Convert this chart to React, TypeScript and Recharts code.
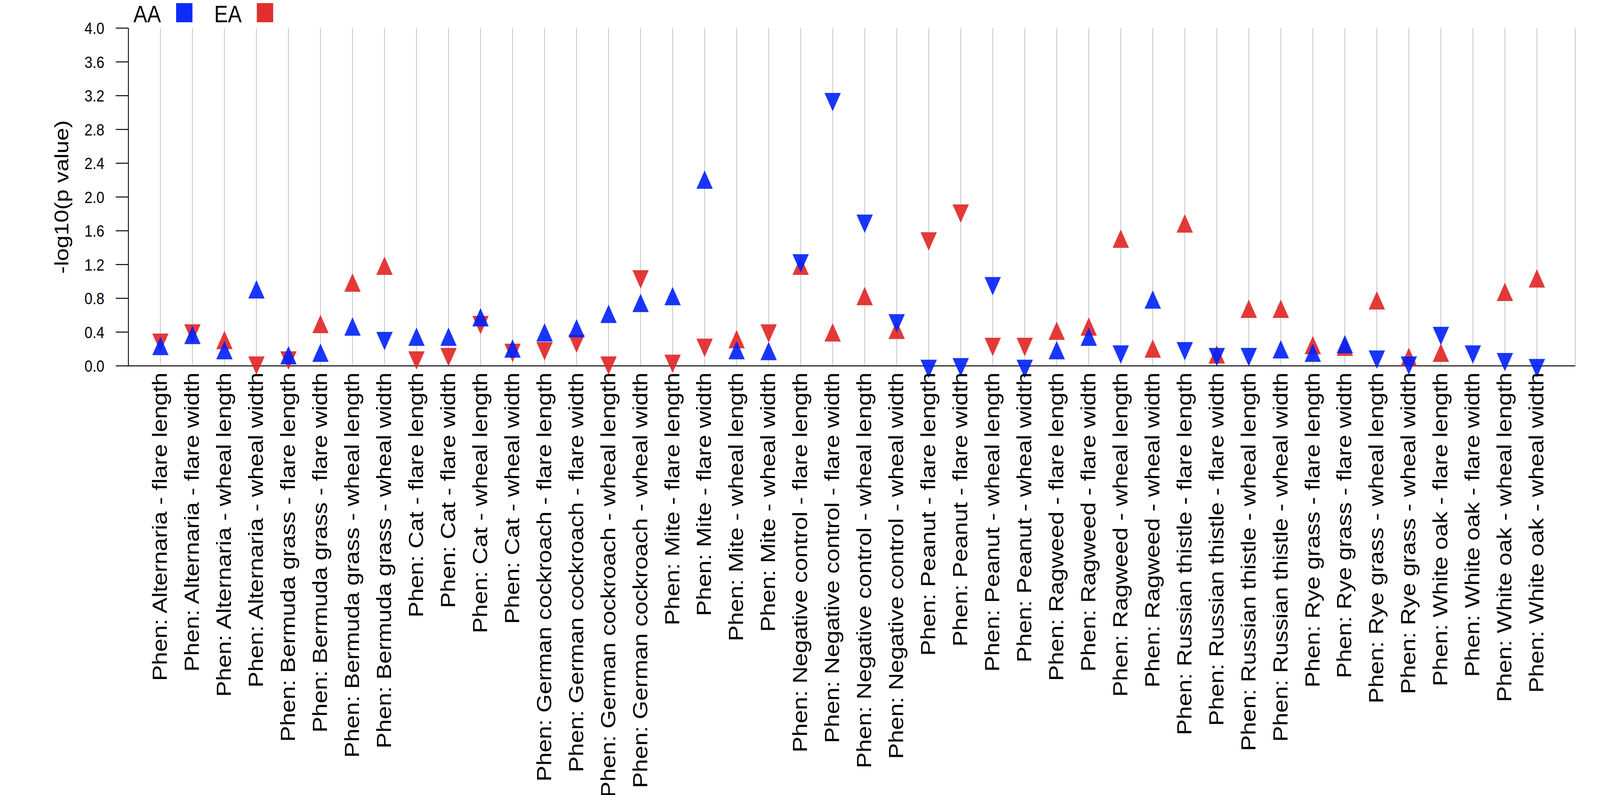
import React from 'react'
import { ScatterChart, Scatter, XAxis, YAxis, CartesianGrid } from 'recharts'

// PheWAS-style plot: -log10(p) per phenotype, triangle direction = effect direction

const phenotypes = [
  'Phen: Alternaria - flare length', 'Phen: Alternaria - flare width', 'Phen: Alternaria - wheal length', 'Phen: Alternaria - wheal width',
  'Phen: Bermuda grass - flare length', 'Phen: Bermuda grass - flare width', 'Phen: Bermuda grass - wheal length', 'Phen: Bermuda grass - wheal width',
  'Phen: Cat - flare length', 'Phen: Cat - flare width', 'Phen: Cat - wheal length', 'Phen: Cat - wheal width',
  'Phen: German cockroach - flare length', 'Phen: German cockroach - flare width', 'Phen: German cockroach - wheal length', 'Phen: German cockroach - wheal width',
  'Phen: Mite - flare length', 'Phen: Mite - flare width', 'Phen: Mite - wheal length', 'Phen: Mite - wheal width',
  'Phen: Negative control - flare length', 'Phen: Negative control - flare width', 'Phen: Negative control - wheal length', 'Phen: Negative control - wheal width',
  'Phen: Peanut - flare length', 'Phen: Peanut - flare width', 'Phen: Peanut - wheal length', 'Phen: Peanut - wheal width',
  'Phen: Ragweed - flare length', 'Phen: Ragweed - flare width', 'Phen: Ragweed - wheal length', 'Phen: Ragweed - wheal width',
  'Phen: Russian thistle - flare length', 'Phen: Russian thistle - flare width', 'Phen: Russian thistle - wheal length', 'Phen: Russian thistle - wheal width',
  'Phen: Rye grass - flare length', 'Phen: Rye grass - flare width', 'Phen: Rye grass - wheal length', 'Phen: Rye grass - wheal width',
  'Phen: White oak - flare length', 'Phen: White oak - flare width', 'Phen: White oak - wheal length', 'Phen: White oak - wheal width',
]

const aaValues = [
  0.20, 0.33, 0.15, 0.87,
  0.09, 0.12, 0.43, 0.33,
  0.31, 0.31, 0.54, 0.17,
  0.36, 0.41, 0.58, 0.71,
  0.79, 2.17, 0.15, 0.14,
  1.25, 3.16, 1.72, 0.54,
  0.00, 0.02, 0.98, 0.00,
  0.15, 0.31, 0.17, 0.75,
  0.21, 0.14, 0.14, 0.16,
  0.12, 0.22, 0.11, 0.04,
  0.39, 0.17, 0.08, 0.01,
]
const aaDirs = [
  'up', 'up', 'up', 'up',
  'up', 'up', 'up', 'down',
  'up', 'up', 'up', 'up',
  'up', 'up', 'up', 'up',
  'up', 'up', 'up', 'up',
  'down', 'down', 'down', 'down',
  'down', 'down', 'down', 'down',
  'up', 'up', 'down', 'up',
  'down', 'down', 'down', 'up',
  'up', 'up', 'down', 'down',
  'down', 'down', 'down', 'down',
]

const eaValues = [
  0.31, 0.42, 0.27, 0.04,
  0.10, 0.46, 0.95, 1.15,
  0.10, 0.14, 0.52, 0.19,
  0.21, 0.30, 0.04, 1.06,
  0.06, 0.25, 0.28, 0.42,
  1.15, 0.36, 0.79, 0.39,
  1.51, 1.84, 0.26, 0.26,
  0.38, 0.43, 1.47, 0.17,
  1.65, 0.10, 0.64, 0.64,
  0.21, 0.19, 0.74, 0.07,
  0.12, null, 0.84, 1.00,
]
const eaDirs = [
  'down', 'down', 'up', 'down',
  'down', 'up', 'up', 'up',
  'down', 'down', 'down', 'down',
  'down', 'down', 'down', 'down',
  'down', 'down', 'up', 'down',
  'up', 'up', 'up', 'up',
  'down', 'down', 'down', 'down',
  'up', 'up', 'up', 'up',
  'up', 'up', 'up', 'up',
  'up', 'up', 'up', 'up',
  'up', 'up', 'up', 'up',
]

const yTicks = [0, 0.4, 0.8, 1.2, 1.6, 2.0, 2.4, 2.8, 3.2, 3.6, 4.0]

const BLUE = '#0020f9'
const RED = '#e02323'
const FONT = '"Liberation Sans", Arial, Helvetica, sans-serif'
const W = 4797
const H = 2036

const legendItems = [
  { name: 'AA', color: BLUE },
  { name: 'EA', color: RED },
]

function toPoints(values: (number | null)[], dirs: string[]) {
  return values
    .map((v, i) => ({ x: i + 1, y: v, dir: dirs[i] }))
    .filter((p) => p.y !== null)
}

const aaData = toPoints(aaValues, aaDirs)
const eaData = toPoints(eaValues, eaDirs)
const xTicks = phenotypes.map((_, i) => i + 1)

function Triangle(props: any) {
  const { cx, cy, payload, fill } = props
  if (cx == null || cy == null) return null
  const w = 49
  const h = 47
  const d = payload.dir === 'up'
    ? `M${cx},${cy - (2 * h) / 3}L${cx + w / 2},${cy + h / 3}L${cx - w / 2},${cy + h / 3}Z`
    : `M${cx},${cy + (2 * h) / 3}L${cx + w / 2},${cy - h / 3}L${cx - w / 2},${cy - h / 3}Z`
  return <path d={d} fill={fill} fillOpacity={0.9} />
}

function PhenTick(props: any) {
  const { x, y, payload } = props
  return (
    <text
      transform={`translate(${x},${y}) rotate(-90)`}
      textAnchor="end"
      dy="0.32em"
      fontSize={61}
      fontFamily={FONT}
      fill="#000"
    >
      {phenotypes[payload.value - 1]}
    </text>
  )
}

function YLabel(props: any) {
  const { viewBox } = props
  const cx = viewBox.x + 205
  const cy = viewBox.y + viewBox.height / 2
  return (
    <text transform={`translate(${cx},${cy}) rotate(-90)`} textAnchor="middle" fontSize={59} fontFamily={FONT} fill="#000">
      -log10(p value)
    </text>
  )
}

function LegendOverlay() {
  return (
    <svg width={900} height={70} style={{ position: 'absolute', left: 0, top: 0 }}>
      {legendItems.map((item, i) => (
        <g key={item.name} transform={`translate(${400 + i * 242},0)`}>
          <text x={0} y={57} fontSize={62} fontFamily={FONT} fill="#000">{item.name}</text>
          <rect x={128} y={8} width={49} height={49} fill={item.color} fillOpacity={0.95} />
        </g>
      ))}
    </svg>
  )
}

export default function App() {
  // the visible viewport can be smaller than the nominal figure size: stretch the figure to fill it
  const vw = typeof window !== 'undefined' ? window.innerWidth : W
  const vh = typeof window !== 'undefined' ? window.innerHeight : H
  const sx = vw / W
  const sy = vh / H
  return (
    <div style={{ position: 'fixed', left: 0, top: 0, width: vw, height: vh, overflow: 'hidden', background: '#fff' }}>
      <div style={{ position: 'absolute', left: 0, top: 0, width: W, height: H, transform: `scale(${sx},${sy})`, transformOrigin: '0 0' }}>
        <ScatterChart width={W} height={H} margin={{ top: 72, right: 74, bottom: 0, left: 0 }}>
          <CartesianGrid horizontal={false} stroke="#c8c8c8" strokeWidth={2.5} />
          <XAxis
            type="number"
            dataKey="x"
            domain={[0, 45.2]}
            ticks={xTicks}
            interval={0}
            height={1099}
            tickSize={0}
            tickLine={false}
            tickMargin={17}
            axisLine={{ stroke: '#000', strokeWidth: 2.5 }}
            tick={<PhenTick />}
          />
          <XAxis
            xAxisId="top"
            orientation="top"
            type="number"
            domain={[0, 45.2]}
            height={0}
            tick={false}
            tickLine={false}
            axisLine={{ stroke: '#000', strokeWidth: 2.5 }}
          />
          <YAxis
            type="number"
            dataKey="y"
            domain={[0, 4]}
            ticks={yTicks}
            interval={0}
            width={385}
            tickSize={38}
            tickMargin={34}
            tickFormatter={(v: number) => v.toFixed(1)}
            tick={{ fontSize: 43, fontFamily: FONT, fill: '#000' }}
            tickLine={{ stroke: '#000', strokeWidth: 2.5 }}
            axisLine={{ stroke: '#000', strokeWidth: 2.5 }}
            label={{ content: YLabel }}
          />
          <YAxis
            yAxisId="right"
            orientation="right"
            type="number"
            domain={[0, 4]}
            width={0}
            tick={false}
            tickLine={false}
            axisLine={{ stroke: '#000', strokeWidth: 2.5 }}
          />
          <Scatter name="EA" data={eaData} fill={RED} shape={Triangle} isAnimationActive={false} />
          <Scatter name="AA" data={aaData} fill={BLUE} shape={Triangle} isAnimationActive={false} />
        </ScatterChart>
        <LegendOverlay />
      </div>
    </div>
  )
}
